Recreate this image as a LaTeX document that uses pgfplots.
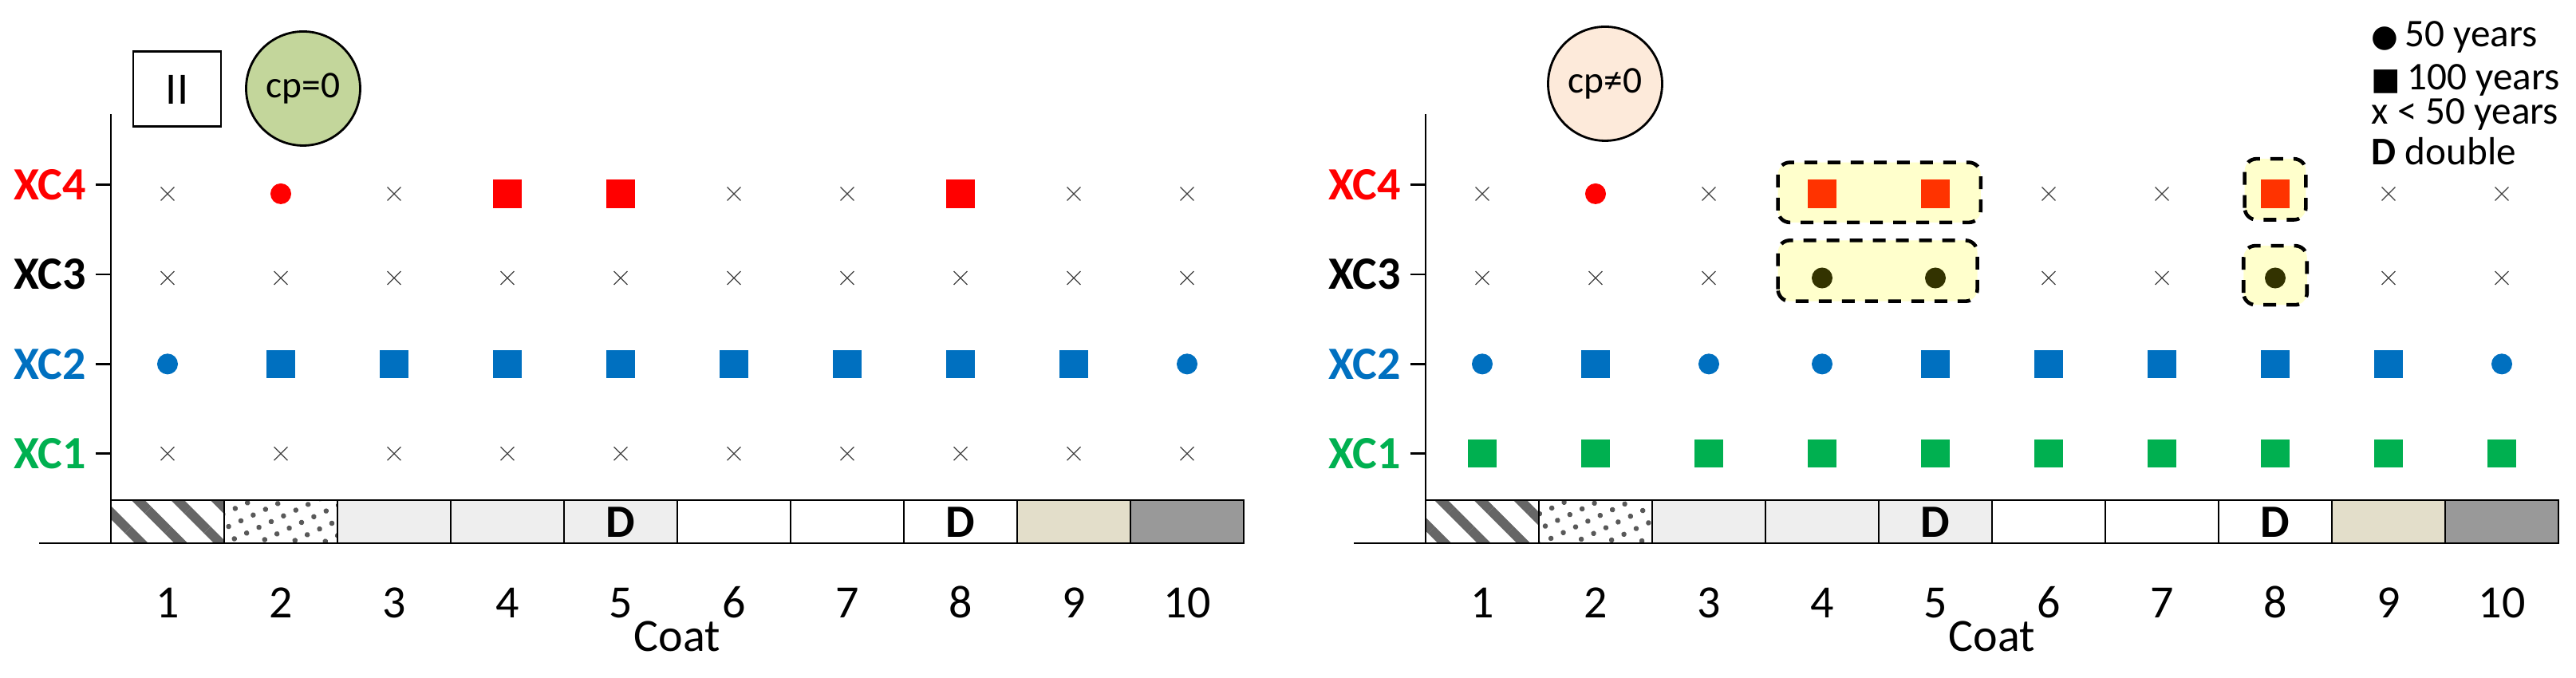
\documentclass[border=0pt]{standalone}
\usepackage{fontspec}
\setmainfont{Carlito}
\newfontfamily\symfont{DejaVu Sans}
\usepackage{pgfplots}
\pgfplotsset{compat=1.18}
\usetikzlibrary{patterns.meta}

\definecolor{xcred}{HTML}{FF0000}
\definecolor{xcorange}{HTML}{FF3300}
\definecolor{xcblue}{HTML}{0070C0}
\definecolor{xcgreen}{HTML}{00B050}
\definecolor{xcolive}{HTML}{333300}
\definecolor{hlfill}{HTML}{FFFFCC}
\definecolor{cpgreen}{HTML}{C3D69B}
\definecolor{cppeach}{HTML}{FDEADA}
\definecolor{lightcell}{HTML}{EEEEEE}
\definecolor{beigecell}{HTML}{E3DECA}
\definecolor{darkcell}{HTML}{999999}

\newcommand{\bigfont}{\fontsize{16.5}{19}\selectfont}

\pgfplotsset{
  coatpanel/.style={
    anchor=south west, scale only axis,
    width=14.2cm, height=5.38cm,
    xmin=0.5, xmax=10.5, ymin=0, ymax=4.79,
    axis x line=bottom, axis y line=left,
    axis line style={-, line width=0.8pt},
    tick align=outside, major tick length=0.19cm,
    xtick={1,...,10}, xticklabels={1,2,3,4,5,6,7,8,9,10},
    major x tick style={draw=none},
    xticklabel style={font=\bigfont, anchor=base, yshift=-0.75cm},
    ytick={1,2,3,4},
    yticklabels={{\color{xcgreen}XC1},{\color{xcblue}XC2},{\color{black}XC3},{\color{xcred}XC4}},
    major y tick style={line width=0.8pt, black},
    yticklabel style={font=\bfseries\bigfont},
    xlabel={Coat},
    xlabel style={font=\bigfont, at={(axis description cs:0.5,0)}, anchor=base, yshift=-1.36cm},
    clip=false,
  },
  xm/.style={only marks, mark=x, mark size=3.4pt, black!75, mark options={line width=0.35pt}},
  dot/.style={only marks, mark=*, mark size=3.5pt, color=#1, mark options={draw=none, fill=#1}},
  sq/.style={only marks, mark=square*, mark size=4.8pt, color=#1, mark options={draw=none, fill=#1}},
  cell/.style={ybar, bar width=1, bar shift=0pt, draw=black, line width=0.8pt},
}

% the layer strip under both panels
\newcommand{\coatstrip}{%
  \addplot[cell, pattern={Lines[angle=-45,distance=0.35cm,line width=0.12cm]}, pattern color=black!60] coordinates {(1,0.48)};
  \addplot[cell, pattern={Dots[distance=0.17cm,radius=0.033cm,angle=25]}, pattern color=black!65] coordinates {(2,0.48)};
  \addplot[cell, fill=lightcell] coordinates {(3,0.48) (4,0.48) (5,0.48)};
  \addplot[cell, fill=white] coordinates {(6,0.48) (7,0.48) (8,0.48)};
  \addplot[cell, fill=beigecell] coordinates {(9,0.48)};
  \addplot[cell, fill=darkcell] coordinates {(10,0.48)};
  \node[font=\bfseries\bigfont] at (axis cs:5,0.23) {D};
  \node[font=\bfseries\bigfont] at (axis cs:8,0.23) {D};
  \draw[line width=0.8pt] (axis cs:0.5,0) -- ++(-0.19cm,0);
}

\begin{document}
\begin{tikzpicture}
\useasboundingbox (0cm,0cm) rectangle (32.29cm,8.5cm);

% ---- left panel: cp = 0
\begin{axis}[coatpanel, at={(1.39cm,1.69cm)}]
  \coatstrip
  % XC4
  \addplot[xm] coordinates {(1,3.9) (3,3.9) (6,3.9) (7,3.9) (9,3.9) (10,3.9)};
  \addplot[dot=xcred] coordinates {(2,3.9)};
  \addplot[sq=xcred] coordinates {(4,3.9) (5,3.9) (8,3.9)};
  % XC3
  \addplot[xm] coordinates {(1,2.96) (2,2.96) (3,2.96) (4,2.96) (5,2.96) (6,2.96) (7,2.96) (8,2.96) (9,2.96) (10,2.96)};
  % XC2
  \addplot[dot=xcblue] coordinates {(1,2) (10,2)};
  \addplot[sq=xcblue] coordinates {(2,2) (3,2) (4,2) (5,2) (6,2) (7,2) (8,2) (9,2)};
  % XC1
  \addplot[xm] coordinates {(1,1) (2,1) (3,1) (4,1) (5,1) (6,1) (7,1) (8,1) (9,1) (10,1)};
\end{axis}

% ---- right panel: cp != 0
\begin{axis}[coatpanel, at={(17.87cm,1.69cm)}]
  \coatstrip
  \draw[line width=1.3pt, dash pattern=on 0.16cm off 0.13cm, fill=hlfill, rounded corners=0.15cm]
    (axis cs:3.61,3.58) rectangle (axis cs:5.40,4.25);
  \draw[line width=1.3pt, dash pattern=on 0.16cm off 0.13cm, fill=hlfill, rounded corners=0.15cm]
    (axis cs:3.61,2.70) rectangle (axis cs:5.37,3.38);
  \draw[line width=1.3pt, dash pattern=on 0.16cm off 0.13cm, fill=hlfill, rounded corners=0.15cm]
    (axis cs:7.73,3.61) rectangle (axis cs:8.27,4.29);
  \draw[line width=1.3pt, dash pattern=on 0.16cm off 0.13cm, fill=hlfill, rounded corners=0.15cm]
    (axis cs:7.72,2.66) rectangle (axis cs:8.28,3.32);
  % XC4
  \addplot[xm] coordinates {(1,3.9) (3,3.9) (6,3.9) (7,3.9) (9,3.9) (10,3.9)};
  \addplot[dot=xcred] coordinates {(2,3.9)};
  \addplot[sq=xcorange] coordinates {(4,3.9) (5,3.9) (8,3.9)};
  % XC3
  \addplot[xm] coordinates {(1,2.96) (2,2.96) (3,2.96) (6,2.96) (7,2.96) (9,2.96) (10,2.96)};
  \addplot[dot=xcolive] coordinates {(4,2.96) (5,2.96) (8,2.96)};
  % XC2
  \addplot[dot=xcblue] coordinates {(1,2) (3,2) (4,2) (10,2)};
  \addplot[sq=xcblue] coordinates {(2,2) (5,2) (6,2) (7,2) (8,2) (9,2)};
  % XC1
  \addplot[sq=xcgreen] coordinates {(1,1) (2,1) (3,1) (4,1) (5,1) (6,1) (7,1) (8,1) (9,1) (10,1)};
\end{axis}

% panel tags
\draw[line width=0.85pt] (1.67cm,7.85cm) rectangle (2.77cm,6.91cm);
\node[font=\fontsize{16}{18}\selectfont] at (2.22cm,7.38cm) {II};
\draw[line width=0.8pt, fill=cpgreen] (3.80cm,7.39cm) circle (0.715cm);
\node[font=\fontsize{13.5}{16}\selectfont] at (3.80cm,7.39cm) {cp=0};
\draw[line width=0.8pt, fill=cppeach] (20.12cm,7.45cm) circle (0.715cm);
\node[font=\fontsize{13.5}{16}\selectfont] at (20.12cm,7.45cm) {cp≠0};

% key
\begin{scope}[every node/.style={font=\fontsize{14}{16}\selectfont, anchor=base west, inner sep=0pt}]
  \node at (29.72cm,7.91cm) {{\symfont\fontsize{11}{12}\selectfont ●}\,50 years};
  \node at (29.72cm,7.37cm) {{\symfont\fontsize{11}{12}\selectfont ■}\,100 years};
  \node at (29.72cm,6.94cm) {x < 50 years};
  \node at (29.72cm,6.43cm) {\textbf{D} double};
\end{scope}
\end{tikzpicture}
\end{document}
